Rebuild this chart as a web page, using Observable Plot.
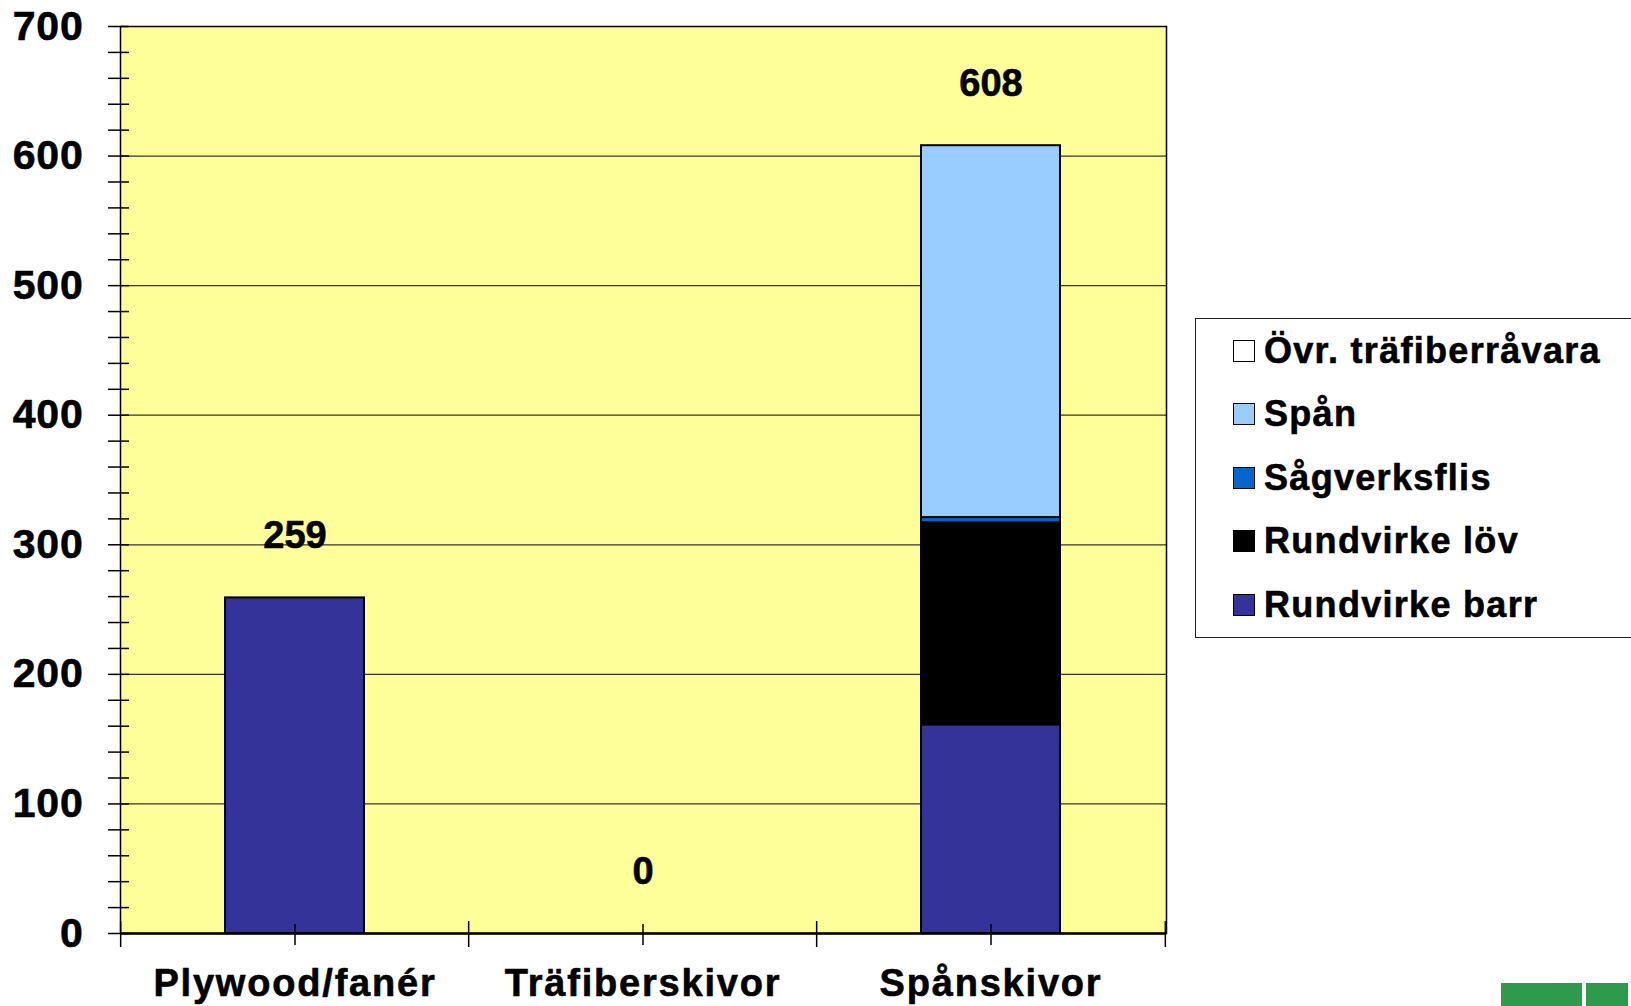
<!DOCTYPE html>
<html><head><meta charset="utf-8">
<script src="https://cdn.jsdelivr.net/npm/d3@7"></script>
<script src="https://cdn.jsdelivr.net/npm/@observablehq/plot@0.6"></script>
<style>
body{margin:0;background:#fff;font-family:"Liberation Sans",Arial,sans-serif;}
#wrap{position:relative;width:1631px;height:1006px;overflow:hidden;}
#legend{position:absolute;left:1195px;top:318px;width:460px;height:320px;border:1.5px solid #222;background:#fff;box-sizing:border-box;}
.row{position:absolute;left:37px;height:40px;display:flex;align-items:center;font-weight:bold;font-size:36px;letter-spacing:1.3px;-webkit-text-stroke:0.6px #000;color:#000;white-space:nowrap;}
.sw{width:20px;height:20px;border:1.5px solid #000;margin-right:9px;flex:none;}
.logo{position:absolute;background:#2e9a4c;}
#chart svg text{stroke:#000;stroke-width:0.6px;}
#chart g[aria-label="x-axis tick label"] text{letter-spacing:1.8px;}
#chart g[aria-label="y-axis tick label"] text{letter-spacing:0.8px;}
</style></head>
<body><div id="wrap"><div id="chart"></div><div id="legend"></div>
<div class="logo" style="left:1501px;top:983px;width:81px;height:23px"></div>
<div class="logo" style="left:1586px;top:983px;width:42px;height:23px"></div>
</div>
<script>
const categories = ["Plywood/fanér", "Träfiberskivor", "Spånskivor"];
const seriesNames = ["Rundvirke barr", "Rundvirke löv", "Sågverksflis", "Spån", "Övr. träfiberråvara"];
const rundvirkeBarr = [259, 0, 161];
const rundvirkeLov = [0, 0, 156];
const sagverksflis = [0, 0, 4];
const span = [0, 0, 287];
const ovrTrafiber = [0, 0, 0];
const totals = [259, 0, 608];
const seriesColors = ["#333399", "#000000", "#0066CC", "#99CCFF", "#FFFFFF"];
const yTicks = [0, 100, 200, 300, 400, 500, 600, 700];

const seriesValues = [rundvirkeBarr, rundvirkeLov, sagverksflis, span, ovrTrafiber];
const rows = [];
categories.forEach((c, i) => seriesNames.forEach((s, j) => {
  if (seriesValues[j][i] > 0) rows.push({category: c, series: s, value: seriesValues[j][i]});
}));
const totalRows = categories.map((c, i) => ({category: c, total: totals[i]}));

const W = 1631, H = 1006, ML = 120, MR = 465, MT = 26, MB = 73;
const step = (W - ML - MR) / categories.length;
const font = "'Liberation Sans', Arial, sans-serif";
const blank = () => "";

const chart = Plot.plot({
  width: W, height: H,
  marginLeft: ML, marginRight: MR, marginTop: MT, marginBottom: MB,
  style: {background: "transparent", fontFamily: font, color: "#000"},
  x: {domain: categories, paddingInner: 0.6, paddingOuter: 0.3},
  y: {domain: [0, 700]},
  color: {domain: seriesNames, range: seriesColors},
  marks: [
    Plot.frame({fill: "#FFFF99", stroke: null}),
    Plot.gridY(yTicks.slice(1, -1), {stroke: "#333", strokeOpacity: 1, strokeWidth: 1.2}),
    Plot.barY(rows, {x: "category", y: "value", fill: "series", stroke: "#000", strokeWidth: 2}),
    Plot.text(totalRows, {x: "category", y: "total", text: d => String(d.total), dy: -62, fontSize: 38, fontWeight: "bold", fill: "#000"}),
    Plot.frame({stroke: "#000", strokeWidth: 1.5}),
    Plot.ruleY([0], {stroke: "#000", strokeWidth: 2.5}),
    Plot.axisY({interval: 20, tickSize: 21, dx: 9, tickFormat: blank, strokeWidth: 1.5}),
    Plot.axisY(yTicks, {tickSize: 0, tickPadding: 37, fontSize: 41, fontWeight: "bold", label: null}),
    Plot.axisX({tickSize: 21, dy: -9, tickFormat: blank, strokeWidth: 1.5, label: null}),
    Plot.axisX({tickSize: 26, dy: -12, dx: -step / 2, tickFormat: blank, strokeWidth: 1.5, label: null}),
    Plot.axisX([categories[categories.length - 1]], {tickSize: 26, dy: -12, dx: step / 2, tickFormat: blank, strokeWidth: 1.5, label: null}),
    Plot.axisX({tickSize: 0, tickPadding: 36, fontSize: 38, fontWeight: "bold", label: null})
  ]
});
document.getElementById("chart").appendChild(chart);

const legend = document.getElementById("legend");
const rowTops = [12, 75, 139, 202, 266];
seriesNames.slice().reverse().forEach((s, k) => {
  const j = seriesNames.indexOf(s);
  const r = document.createElement("div");
  r.className = "row";
  r.style.top = rowTops[k] + "px";
  const sw = document.createElement("div");
  sw.className = "sw";
  sw.style.background = seriesColors[j];
  r.appendChild(sw);
  r.appendChild(document.createTextNode(s));
  legend.appendChild(r);
});
</script></body></html>
